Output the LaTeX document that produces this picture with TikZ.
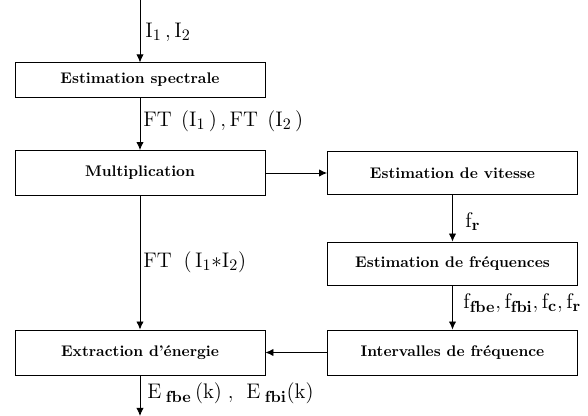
\documentclass[tikz,border=0pt]{standalone}
\usetikzlibrary{arrows.meta}
\begin{document}
\begin{tikzpicture}[x=0.024cm,y=-0.024cm,
    line width=0.6pt,
    bloc/.style={draw, font=\fontsize{10.5}{12}\selectfont\bfseries, minimum width=6.0cm, inner sep=0pt},
    fleche/.style={-{Latex[length=5.5pt,width=5pt]}},
    etiq/.style={anchor=west, font=\fontsize{15}{18}\selectfont, inner sep=0pt}]
    % cadre
    \useasboundingbox (0,0) rectangle (588,416);

    % blocs de gauche
    \node[bloc, minimum height=0.82cm] (spec) at (140,80) {Estimation spectrale};
    \node[bloc, minimum height=1.08cm] (mult) at (140,173) {Multiplication};
    \node[bloc, minimum height=1.08cm] (extr) at (140,352.5) {Extraction d'énergie};

    % blocs de droite
    \node[bloc, minimum height=1.03cm] (vit) at (452.5,173) {Estimation de vitesse};
    \node[bloc, minimum height=1.03cm] (freq) at (452.5,263.5) {Estimation de fréquences};
    \node[bloc, minimum height=1.08cm] (interv) at (452.5,352.5) {Intervalles de fréquence};

    % entrée et sortie
    \coordinate (entree) at (140,0);
    \coordinate (sortie) at (140,416);

    % flèches
    \draw[fleche] (entree) -- (spec);
    \draw[fleche] (spec) -- (mult);
    \draw[fleche] (mult) -- (vit);
    \draw[fleche] (mult) -- (extr);
    \draw[fleche] (vit) -- (freq);
    \draw[fleche] (freq) -- (interv);
    \draw[fleche] (interv) -- (extr);
    \draw[fleche] (extr) -- (sortie);

    % étiquettes
    \node[etiq] (e1) at (145,32) {$\mathrm{I}_1\,,\mathrm{I}_2$};
    \node[etiq] (e2) at (143,121) {$\mathrm{FT}\;\,(\mathrm{I}_1\,)\,,\mathrm{FT}\;\,(\mathrm{I}_2\,)$};
    \node[etiq] (e3) at (143,262) {$\mathrm{FT}\;\;(\,\mathrm{I}_1{*}\mathrm{I}_2)$};
    \node[etiq] (e4) at (147,393) {$\mathrm{E}_{\;\mathbf{fbe}}\,(\mathrm{k})\;,\;\,\mathrm{E}_{\;\mathbf{fbi}}(\mathrm{k})$};
    \node[etiq] (e5) at (465,222) {$\mathrm{f}_{\mathbf{r}}$};
    \node[etiq] (e6) at (463,303) {$\mathrm{f}_{\mathbf{fbe}},\mathrm{f}_{\mathbf{fbi}},\mathrm{f}_{\mathbf{c}},\mathrm{f}_{\mathbf{r}}$};
\end{tikzpicture}
\end{document}
